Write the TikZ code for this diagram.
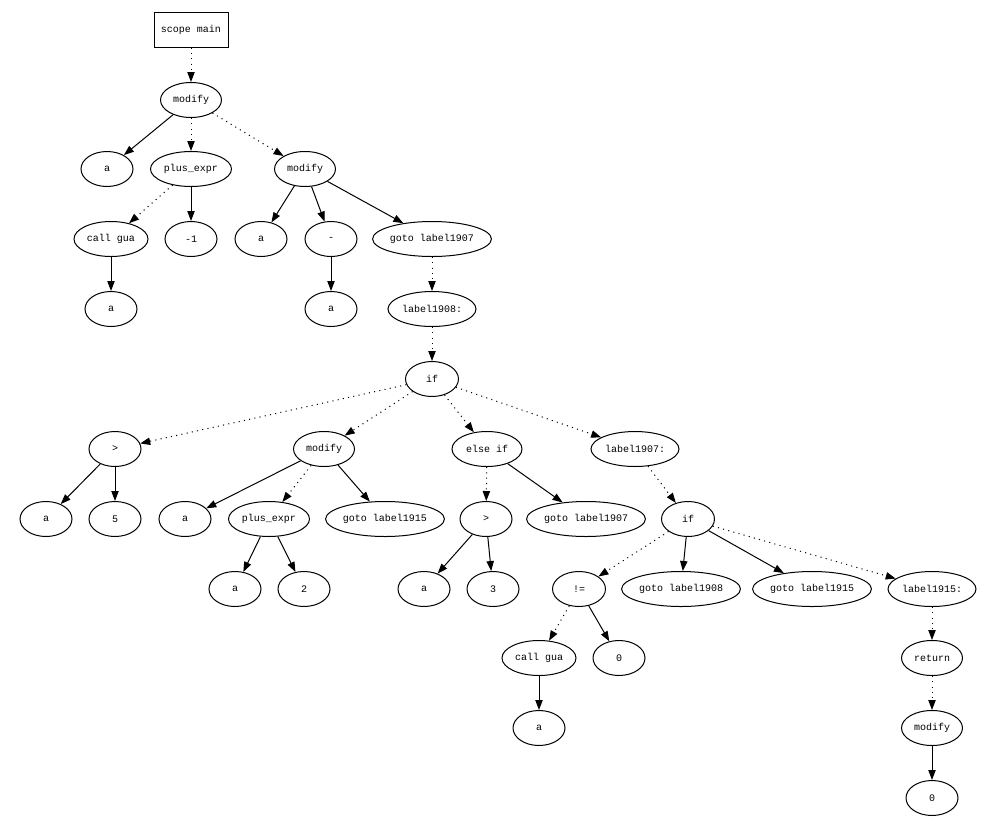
\documentclass[tikz,border=0pt]{standalone}
\usepackage{fontspec}
\setmainfont{Liberation Mono}
\usetikzlibrary{arrows.meta,shapes.geometric}
\begin{document}
\begin{tikzpicture}[x=0.75pt,y=-0.75pt,
  every node/.style={font=\fontsize{7.5}{9}\selectfont, inner sep=0pt},
  el/.style={draw, ellipse, line width=0.75pt, minimum height=26.25pt, minimum width=39pt},
  w53/.style={minimum width=39.75pt},
  w61/.style={minimum width=45.75pt},
  w70/.style={minimum width=52.5pt},
  w74/.style={minimum width=55.5pt},
  w81/.style={minimum width=60.75pt},
  w88/.style={minimum width=66pt},
  w116/.style={minimum width=87pt},
  box/.style={draw, rectangle, line width=0.75pt, minimum width=55.5pt, minimum height=26.25pt},
  sol/.style={draw, line width=0.75pt, -{Triangle[length=7.5pt,width=5.5pt]}},
  dot/.style={sol, dash pattern=on 0.8pt off 3.2pt}
]
\useasboundingbox (0,0) rectangle (988,825);
% nodes
\node[box] (scope) at (191,29.5) {scope main};
\node[el,w61] (m1) at (191,100) {modify};
\node[el] (a1) at (107,169) {a};
\node[el,w81] (pe1) at (191,169) {plus\_expr};
\node[el,w61] (m2) at (305,169) {modify};
\node[el,w74] (cg1) at (111,239) {call gua};
\node[el] (neg1) at (191,239) {-1};
\node[el] (a2) at (261,239) {a};
\node[el] (minus) at (331,239) {-};
\node[el,w116] (g1907) at (432,239) {goto label1907};
\node[el] (a3) at (111,309) {a};
\node[el] (a4) at (331,309) {a};
\node[el,w88] (l1908) at (432,309) {label1908:};
\node[el,w53] (if1) at (432,379) {if};
\node[el] (gt1) at (115,449) {>};
\node[el,w61] (m3) at (324,449) {modify};
\node[el,w70] (elif) at (487,449) {else if};
\node[el,w88] (l1907) at (635,449) {label1907:};
\node[el] (a5) at (46,519) {a};
\node[el] (five) at (115,519) {5};
\node[el] (a6) at (185,519) {a};
\node[el,w81] (pe2) at (269,519) {plus\_expr};
\node[el,w116] (g1915a) at (385,519) {goto label1915};
\node[el] (gt2) at (486,519) {>};
\node[el,w116] (g1907b) at (586,519) {goto label1907};
\node[el,w53] (if2) at (688,519) {if};
\node[el] (a7) at (235,589) {a};
\node[el] (two) at (304,589) {2};
\node[el] (a8) at (424,589) {a};
\node[el] (three) at (493,589) {3};
\node[el,w53] (ne) at (579,589) {!=};
\node[el,w116] (g1908) at (681,589) {goto label1908};
\node[el,w116] (g1915b) at (812,589) {goto label1915};
\node[el,w88] (l1915) at (932,589) {label1915:};
\node[el,w74] (cg2) at (539,658) {call gua};
\node[el] (zero1) at (619,658) {0};
\node[el,w61] (ret) at (932,658) {return};
\node[el] (a9) at (539,728) {a};
\node[el,w61] (m4) at (932,728) {modify};
\node[el] (zero2) at (932,798) {0};
% edges
\draw[dot] (scope) -- (m1);
\draw[sol] (m1) -- (a1);
\draw[dot] (m1) -- (pe1);
\draw[dot] (m1) -- (m2);
\draw[dot] (pe1) -- (cg1);
\draw[sol] (pe1) -- (neg1);
\draw[sol] (cg1) -- (a3);
\draw[sol] (m2) -- (a2);
\draw[sol] (m2) -- (minus);
\draw[sol] (m2) -- (g1907);
\draw[sol] (minus) -- (a4);
\draw[dot] (g1907) -- (l1908);
\draw[dot] (l1908) -- (if1);
\draw[dot] (if1) -- (gt1);
\draw[dot] (if1) -- (m3);
\draw[dot] (if1) -- (elif);
\draw[dot] (if1) -- (l1907);
\draw[sol] (gt1) -- (a5);
\draw[sol] (gt1) -- (five);
\draw[sol] (m3) -- (a6);
\draw[dot] (m3) -- (pe2);
\draw[sol] (m3) -- (g1915a);
\draw[sol] (pe2) -- (a7);
\draw[sol] (pe2) -- (two);
\draw[dot] (elif) -- (gt2);
\draw[sol] (elif) -- (g1907b);
\draw[sol] (gt2) -- (a8);
\draw[sol] (gt2) -- (three);
\draw[dot] (l1907) -- (if2);
\draw[dot] (if2) -- (ne);
\draw[sol] (if2) -- (g1908);
\draw[sol] (if2) -- (g1915b);
\draw[dot] (if2) -- (l1915);
\draw[dot] (ne) -- (cg2);
\draw[sol] (ne) -- (zero1);
\draw[sol] (cg2) -- (a9);
\draw[dot] (l1915) -- (ret);
\draw[dot] (ret) -- (m4);
\draw[sol] (m4) -- (zero2);
\end{tikzpicture}
\end{document}
